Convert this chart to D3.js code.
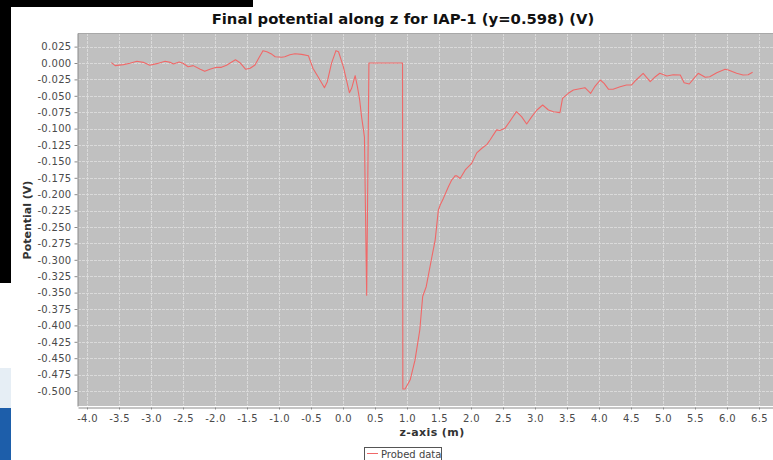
<!DOCTYPE html>
<html>
<head>
<meta charset="utf-8">
<script src="https://cdn.jsdelivr.net/npm/d3@7"></script>
<style>
body { margin: 0; background: #fff; }
svg { display: block; font-family: "DejaVu Sans", sans-serif; }
</style>
</head>
<body>
<svg id="chart" width="773" height="460"></svg>
<script>
// probed potential along z
var zValues = [-3.62, -3.56, -3.43, -3.33, -3.22, -3.12, -3.02, -2.91, -2.78, -2.70, -2.65, -2.56, -2.50, -2.42, -2.34,
	-2.23, -2.16, -2.08, -1.98, -1.90, -1.82, -1.77, -1.68, -1.61, -1.52, -1.45, -1.375, -1.32, -1.25, -1.19,
	-1.11, -1.06, -0.96, -0.91, -0.83, -0.75, -0.645, -0.54, -0.52, -0.47, -0.39, -0.29, -0.245, -0.18, -0.11,
	-0.07, 0.005, 0.10, 0.135, 0.19, 0.23, 0.26, 0.29, 0.32, 0.335, 0.37, 0.405, 0.93, 0.935, 0.97, 1.05,
	1.125, 1.20, 1.245, 1.30, 1.39, 1.44, 1.49, 1.52, 1.57, 1.645, 1.70, 1.72, 1.75, 1.78, 1.83, 1.91, 2.01,
	2.09, 2.17, 2.25, 2.30, 2.40, 2.45, 2.53, 2.64, 2.71, 2.79, 2.87, 2.95, 3.03, 3.12, 3.21, 3.29, 3.39,
	3.43, 3.52, 3.60, 3.68, 3.78, 3.87, 3.94, 4.02, 4.08, 4.15, 4.22, 4.33, 4.43, 4.51, 4.58, 4.69, 4.80,
	4.88, 4.95, 5.06, 5.16, 5.27, 5.33, 5.41, 5.47, 5.55, 5.66, 5.73, 5.84, 5.97, 6.02, 6.15, 6.25, 6.33, 6.40];
var potential = [0.0005, -0.004, -0.0025, -0.0005, 0.0026, 0.001, -0.0035, -0.001, 0.0026, 0.001, -0.0015, 0.0015, -0.0005, -0.0056, -0.004,
	-0.0096, -0.0127, -0.0096, -0.0066, -0.0066, -0.0035, -0.0005, 0.005, 0.0005, -0.0096, -0.008, -0.003, 0.007, 0.0188, 0.0172,
	0.0132, 0.0096, 0.0087, 0.0096, 0.0127, 0.0142, 0.0132, 0.011, 0.0056, -0.008, -0.0209, -0.0377, -0.0285, -0.0005, 0.0188,
	0.0172, -0.0056, -0.0453, -0.0386, -0.0193, -0.0386, -0.056, -0.082, -0.102, -0.113, -0.354, 0.0, 0.0, -0.497, -0.497, -0.483,
	-0.453, -0.407, -0.356, -0.341, -0.295, -0.270, -0.224, -0.216, -0.206, -0.189, -0.178, -0.176, -0.172, -0.172, -0.176, -0.163, -0.153,
	-0.137, -0.130, -0.124, -0.117, -0.102, -0.103, -0.0996, -0.0843, -0.0742, -0.0818, -0.093, -0.0818, -0.0716, -0.064, -0.0716, -0.0742, -0.0757,
	-0.0538, -0.0462, -0.0412, -0.0396, -0.0376, -0.0462, -0.0351, -0.0259, -0.031, -0.0401, -0.0401, -0.0361, -0.0335, -0.0335, -0.0259, -0.0157, -0.0285,
	-0.0209, -0.0157, -0.0198, -0.0178, -0.0183, -0.030, -0.032, -0.0249, -0.0157, -0.0218, -0.0209, -0.0148, -0.0096, -0.0107, -0.0157, -0.0183, -0.0178, -0.0142];

var xTicks = [-4.0, -3.5, -3.0, -2.5, -2.0, -1.5, -1.0, -0.5, 0.0, 0.5, 1.0, 1.5, 2.0, 2.5, 3.0, 3.5, 4.0, 4.5, 5.0, 5.5, 6.0, 6.5];
var yTicks = [0.025, 0.0, -0.025, -0.05, -0.075, -0.1, -0.125, -0.15, -0.175, -0.2, -0.225, -0.25, -0.275, -0.3,
	-0.325, -0.35, -0.375, -0.4, -0.425, -0.45, -0.475, -0.5];

var title = "Final potential along z for IAP-1 (y=0.598) (V)";
var xLabel = "z-axis (m)";
var yLabel = "Potential (V)";
var seriesName = "Probed data";

var svg = d3.select("#chart"),
	plotL = 78, plotR = 773, plotT = 33, plotB = 406,
	lineColor = "#f06868";

// bits of the desktop behind the screenshot
svg.append("rect").attr("x", 0).attr("y", 0).attr("width", 253).attr("height", 7).attr("fill", "#000");
svg.append("rect").attr("x", 0).attr("y", 0).attr("width", 11).attr("height", 283).attr("fill", "#000");
svg.append("rect").attr("x", 0).attr("y", 368).attr("width", 11).attr("height", 40).attr("fill", "#e6eef5");
svg.append("rect").attr("x", 0).attr("y", 408).attr("width", 11).attr("height", 52).attr("fill", "#1d5eaa");

var x = d3.scaleLinear().domain([-4 - 9 / 64, -4 + 686 / 64]).range([plotL, plotR]);
var y = d3.scaleLinear().domain([0.025 + 13.6 / 656, -0.5 - 15 / 656]).range([plotT, plotB]);

svg.append("rect")
	.attr("x", plotL).attr("y", plotT)
	.attr("width", plotR - plotL).attr("height", plotB - plotT)
	.attr("fill", "#c0c0c0");

// grid
svg.append("g").selectAll("line").data(xTicks).join("line")
	.attr("x1", d => x(d) + 0.5).attr("x2", d => x(d) + 0.5)
	.attr("y1", plotT).attr("y2", plotB)
	.attr("stroke", "#dadada").attr("stroke-dasharray", "3,1");
svg.append("g").selectAll("line").data(yTicks).join("line")
	.attr("x1", plotL).attr("x2", plotR)
	.attr("y1", d => Math.round(y(d)) + 0.5).attr("y2", d => Math.round(y(d)) + 0.5)
	.attr("stroke", "#dadada").attr("stroke-dasharray", "3,1");

// outline
svg.append("line").attr("x1", plotL).attr("x2", plotR).attr("y1", plotT + 0.5).attr("y2", plotT + 0.5).attr("stroke", "#a8a8a8");

svg.append("clipPath").attr("id", "clip").append("rect")
	.attr("x", plotL).attr("y", plotT).attr("width", plotR - plotL).attr("height", plotB - plotT);

var line = d3.line()
	.x(function(d, i) { return x(zValues[i]); })
	.y(function(d) { return y(d); });

svg.append("path")
	.datum(potential)
	.attr("clip-path", "url(#clip)")
	.attr("d", line)
	.attr("fill", "none")
	.attr("stroke", lineColor)
	.attr("stroke-width", 1.1)
	.attr("stroke-linejoin", "round");

// axes
var xAxis = d3.axisBottom(x).tickValues(xTicks).tickFormat(d => d.toFixed(1)).tickSize(2).tickSizeOuter(0);
var yAxis = d3.axisLeft(y).tickValues(yTicks).tickFormat(d => d.toFixed(3)).tickSize(3).tickSizeOuter(0);

var gx = svg.append("g").attr("transform", "translate(0," + (plotB + 1.5) + ")").call(xAxis);
var gy = svg.append("g").attr("transform", "translate(" + (plotL - 0.5) + ",0)").call(yAxis);

[gx, gy].forEach(function(g) {
	g.select(".domain").attr("stroke", "#8a8a8a");
	g.selectAll(".tick line").attr("stroke", "#8a8a8a");
	g.selectAll(".tick text")
		.attr("fill", "#4a4a4a")
		.attr("font-family", "DejaVu Sans, sans-serif")
		.attr("font-size", "10px")
		.attr("letter-spacing", "0.3px");
});
gx.selectAll(".tick text").attr("dy", "0.9em");
gy.selectAll(".tick text").attr("x", -6);

// titles
svg.append("text")
	.attr("x", 403).attr("y", 24)
	.attr("text-anchor", "middle")
	.attr("font-size", "14.8px").attr("font-weight", "bold").attr("fill", "#111")
	.text(title);

svg.append("text")
	.attr("x", 432).attr("y", 436)
	.attr("text-anchor", "middle")
	.attr("font-size", "11px").attr("font-weight", "bold").attr("fill", "#333")
	.attr("letter-spacing", "0.4px")
	.text(xLabel);

svg.append("text")
	.attr("transform", "translate(31,220) rotate(-90)")
	.attr("text-anchor", "middle")
	.attr("font-size", "11px").attr("font-weight", "bold").attr("fill", "#333")
	.text(yLabel);

// legend
var lg = svg.append("g");
lg.append("rect").attr("x", 364.5).attr("y", 447.5).attr("width", 77).attr("height", 20)
	.attr("fill", "#fff").attr("stroke", "#555");
lg.append("line").attr("x1", 367).attr("x2", 378).attr("y1", 453.5).attr("y2", 453.5).attr("stroke", lineColor);
lg.append("text").attr("x", 381).attr("y", 457.5)
	.attr("font-size", "10px").attr("fill", "#444")
	.text(seriesName);
</script>
</body>
</html>
